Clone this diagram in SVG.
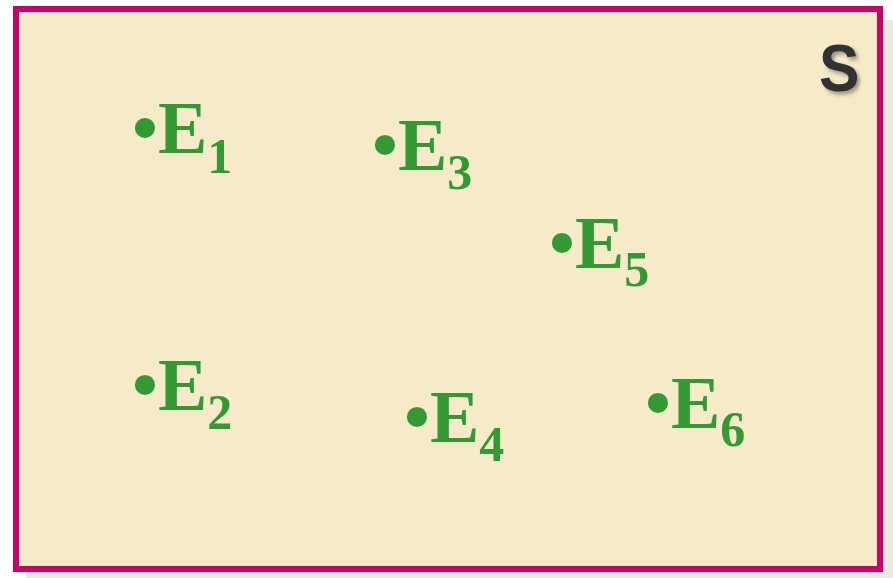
<svg xmlns="http://www.w3.org/2000/svg" width="893" height="578" viewBox="0 0 893 578">
<defs>
<filter id="sh" x="-20%" y="-20%" width="150%" height="150%">
<feDropShadow dx="3" dy="3" stdDeviation="2" flood-color="#000" flood-opacity="0.35"/>
</filter>
<style>
.ev{font-family:"Liberation Serif","Times New Roman",serif;font-weight:bold;font-size:74px;fill:#339933}
.sub{font-size:50px}
</style>
</defs>
<rect x="0" y="0" width="893" height="578" fill="#ffffff"/>
<rect x="26" y="20" width="867" height="558" fill="#ebe8dd"/>
<g id="sample-space">
<rect x="16" y="9" width="864" height="560" fill="#f5ebc8" stroke="#cc0066" stroke-width="6"/>
<text x="819" y="91" font-family="Liberation Sans, Arial, sans-serif" font-weight="bold" font-size="66" fill="#333333" filter="url(#sh)" transform="translate(819 0) scale(0.92 1) translate(-819 0)">S</text>
</g>
<g id="E1"><text class="ev" x="132" y="153">•E<tspan class="sub" dy="20">1</tspan></text></g>
<g id="E2"><text class="ev" x="132" y="410">•E<tspan class="sub" dy="19">2</tspan></text></g>
<g id="E3"><text class="ev" x="372" y="170">•E<tspan class="sub" dy="19">3</tspan></text></g>
<g id="E4"><text class="ev" x="404" y="442">•E<tspan class="sub" dy="19">4</tspan></text></g>
<g id="E5"><text class="ev" x="549" y="268">•E<tspan class="sub" dy="18">5</tspan></text></g>
<g id="E6"><text class="ev" x="645" y="428">•E<tspan class="sub" dy="18">6</tspan></text></g>
<g id="connectors"></g>
</svg>
